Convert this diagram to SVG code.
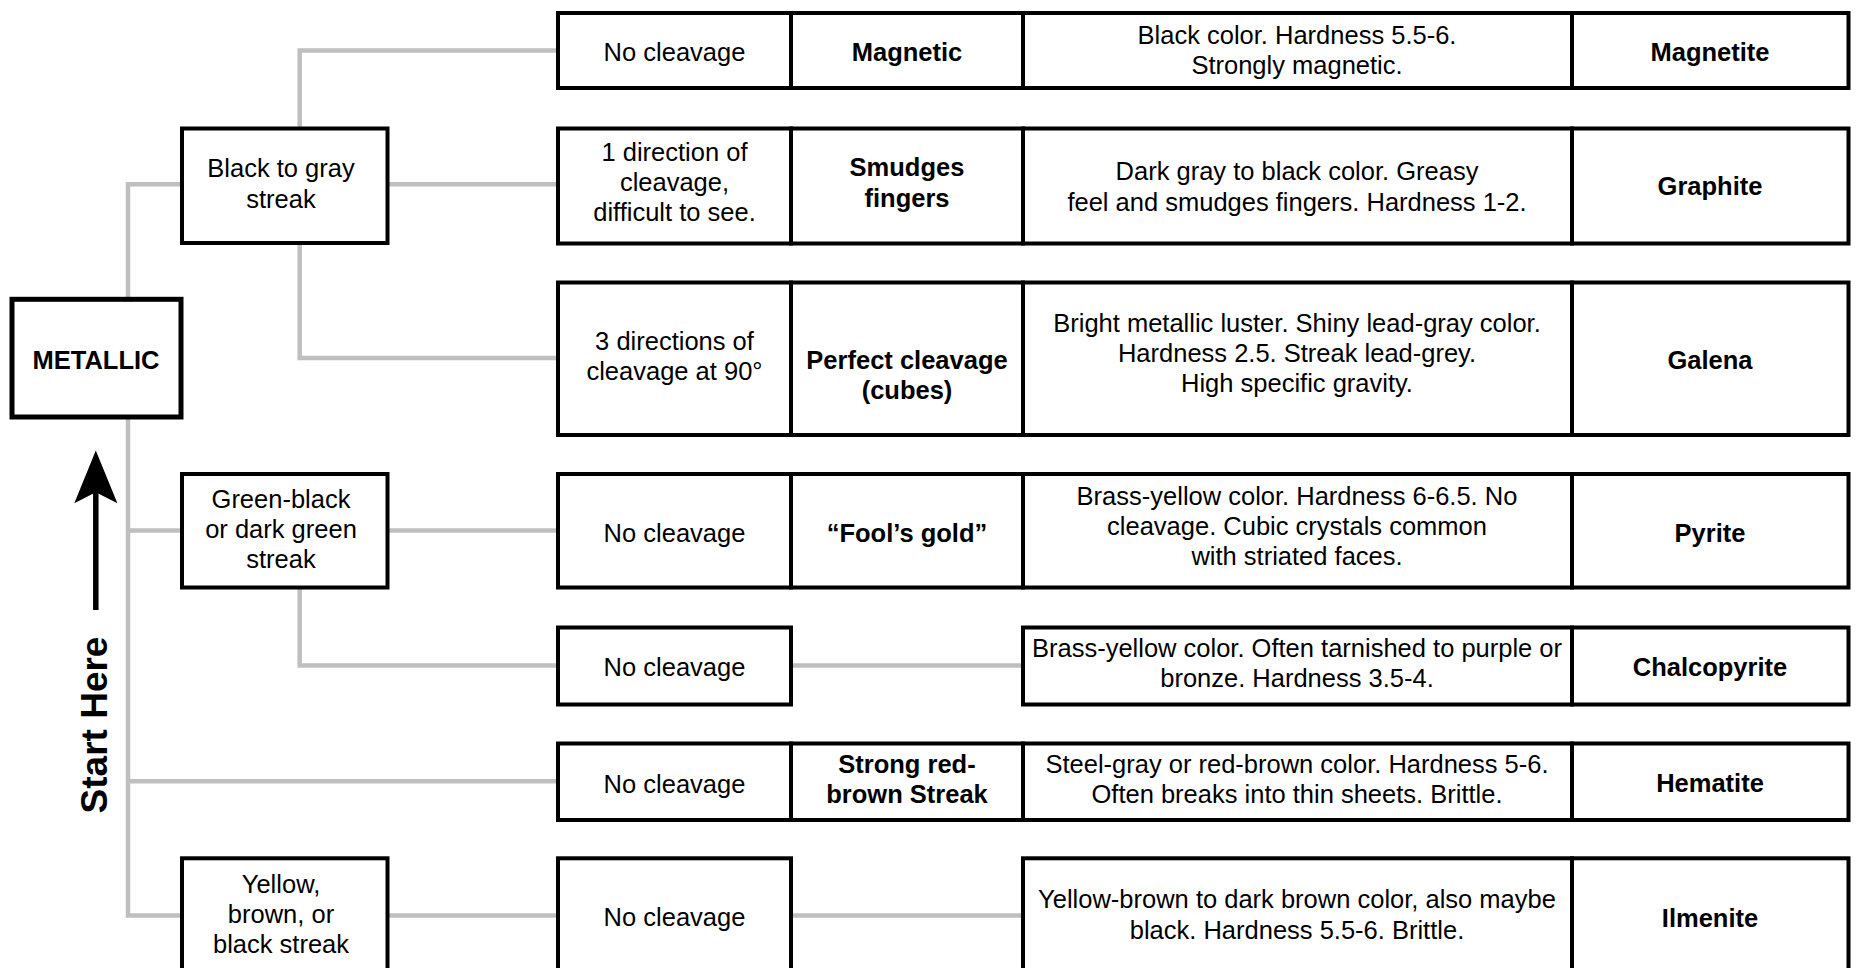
<svg xmlns="http://www.w3.org/2000/svg" width="1857" height="968" viewBox="0 0 1857 968">
<style>
.box{fill:#fff;stroke:#000;stroke-width:4}
.main{fill:#fff;stroke:#000;stroke-width:5}
.conn{fill:none;stroke:#bfbfbf;stroke-width:4.5;stroke-linejoin:miter}
.t{font-family:"Liberation Sans",Arial,sans-serif;font-size:25.5px;fill:#000;text-anchor:middle}
.b{font-weight:bold}
</style>
<rect width="1857" height="968" fill="#fff"/>
<g id="connectors">
<path class="conn" d="M182,184.3 H128 V915.5 H182"/>
<path class="conn" d="M128,530.5 H182"/>
<path class="conn" d="M128,781.3 H558"/>
<path class="conn" d="M299.7,128.5 V50.5 H558"/>
<path class="conn" d="M387.5,184.3 H558"/>
<path class="conn" d="M299.7,243 V358 H558"/>
<path class="conn" d="M387.5,530.5 H558"/>
<path class="conn" d="M299.7,587.5 V665.5 H558"/>
<path class="conn" d="M791,665.5 H1023"/>
<path class="conn" d="M387.5,915.5 H558"/>
<path class="conn" d="M791,915.5 H1023"/>
</g>
<g id="start-here">
<line x1="95.8" y1="490" x2="95.8" y2="610" stroke="#000" stroke-width="5.5"/>
<polygon points="95.8,450.5 117.4,503.3 95.8,492.3 74.3,503.3" fill="#000"/>
<text class="t b" style="font-size:37px" transform="translate(106.5,725) rotate(-90)" x="0" y="0">Start Here</text>
</g>
<g id="metallic">
<rect class="main" x="12" y="299.3" width="169" height="117.7"/>
<text class="t b" x="96" y="368.5">METALLIC</text>
</g>
<g id="black-streak">
<rect class="box" x="182" y="128.5" width="205.5" height="114.5"/>
<text class="t" x="281" y="177">Black to gray</text>
<text class="t" x="281" y="207.5">streak</text>
</g>
<g id="green-streak">
<rect class="box" x="182" y="474" width="205.5" height="113.5"/>
<text class="t" x="281" y="507.5">Green-black</text>
<text class="t" x="281" y="537.5">or dark green</text>
<text class="t" x="281" y="567.5">streak</text>
</g>
<g id="yellow-streak">
<rect class="box" x="182" y="858.3" width="205.5" height="140"/>
<text class="t" x="281" y="892.5">Yellow,</text>
<text class="t" x="281" y="923">brown, or</text>
<text class="t" x="281" y="953">black streak</text>
</g>
<g id="row-magnetite">
<rect class="box" x="558" y="13" width="233" height="75"/>
<rect class="box" x="791" y="13" width="232" height="75"/>
<rect class="box" x="1023" y="13" width="549" height="75"/>
<rect class="box" x="1572" y="13" width="276.5" height="75"/>
<text class="t" x="674.5" y="61">No cleavage</text>
<text class="t b" x="907" y="61">Magnetic</text>
<text class="t" x="1297" y="43.5">Black color. Hardness 5.5-6.</text>
<text class="t" x="1297" y="73.5">Strongly magnetic.</text>
<text class="t b" x="1710" y="61">Magnetite</text>
</g>
<g id="row-graphite">
<rect class="box" x="558" y="128.5" width="233" height="115"/>
<rect class="box" x="791" y="128.5" width="232" height="115"/>
<rect class="box" x="1023" y="128.5" width="549" height="115"/>
<rect class="box" x="1572" y="128.5" width="276.5" height="115"/>
<text class="t" x="674.5" y="161">1 direction of</text>
<text class="t" x="674.5" y="191">cleavage,</text>
<text class="t" x="674.5" y="221">difficult to see.</text>
<text class="t b" x="907" y="176">Smudges</text>
<text class="t b" x="907" y="206.5">fingers</text>
<text class="t" x="1297" y="180">Dark gray to black color. Greasy</text>
<text class="t" x="1297" y="210.5">feel and smudges fingers. Hardness 1-2.</text>
<text class="t b" x="1710" y="195">Graphite</text>
</g>
<g id="row-galena">
<rect class="box" x="558" y="282.5" width="233" height="152.5"/>
<rect class="box" x="791" y="282.5" width="232" height="152.5"/>
<rect class="box" x="1023" y="282.5" width="549" height="152.5"/>
<rect class="box" x="1572" y="282.5" width="276.5" height="152.5"/>
<text class="t" x="674.5" y="350">3 directions of</text>
<text class="t" x="674.5" y="380">cleavage at 90°</text>
<text class="t b" x="907" y="369">Perfect cleavage</text>
<text class="t b" x="907" y="399">(cubes)</text>
<text class="t" x="1297" y="332">Bright metallic luster. Shiny lead-gray color.</text>
<text class="t" x="1297" y="362">Hardness 2.5. Streak lead-grey.</text>
<text class="t" x="1297" y="392">High specific gravity.</text>
<text class="t b" x="1710" y="369">Galena</text>
</g>
<g id="row-pyrite">
<rect class="box" x="558" y="474" width="233" height="113.5"/>
<rect class="box" x="791" y="474" width="232" height="113.5"/>
<rect class="box" x="1023" y="474" width="549" height="113.5"/>
<rect class="box" x="1572" y="474" width="276.5" height="113.5"/>
<text class="t" x="674.5" y="542">No cleavage</text>
<text class="t b" x="907" y="542">“Fool’s gold”</text>
<text class="t" x="1297" y="505">Brass-yellow color. Hardness 6-6.5. No</text>
<text class="t" x="1297" y="535">cleavage. Cubic crystals common</text>
<text class="t" x="1297" y="565">with striated faces.</text>
<text class="t b" x="1710" y="542">Pyrite</text>
</g>
<g id="row-chalcopyrite">
<rect class="box" x="558" y="627.5" width="233" height="77"/>
<rect class="box" x="1023" y="627.5" width="549" height="77"/>
<rect class="box" x="1572" y="627.5" width="276.5" height="77"/>
<text class="t" x="674.5" y="676">No cleavage</text>
<text class="t" x="1297" y="657">Brass-yellow color. Often tarnished to purple or</text>
<text class="t" x="1297" y="687">bronze. Hardness 3.5-4.</text>
<text class="t b" x="1710" y="676">Chalcopyrite</text>
</g>
<g id="row-hematite">
<rect class="box" x="558" y="743.5" width="233" height="76.5"/>
<rect class="box" x="791" y="743.5" width="232" height="76.5"/>
<rect class="box" x="1023" y="743.5" width="549" height="76.5"/>
<rect class="box" x="1572" y="743.5" width="276.5" height="76.5"/>
<text class="t" x="674.5" y="793">No cleavage</text>
<text class="t b" x="907" y="773">Strong red-</text>
<text class="t b" x="907" y="802.5">brown Streak</text>
<text class="t" x="1297" y="773">Steel-gray or red-brown color. Hardness 5-6.</text>
<text class="t" x="1297" y="802.5">Often breaks into thin sheets. Brittle.</text>
<text class="t b" x="1710" y="792">Hematite</text>
</g>
<g id="row-ilmenite">
<rect class="box" x="558" y="858.3" width="233" height="140"/>
<rect class="box" x="1023" y="858.3" width="549" height="140"/>
<rect class="box" x="1572" y="858.3" width="276.5" height="140"/>
<text class="t" x="674.5" y="925.5">No cleavage</text>
<text class="t" x="1297" y="908">Yellow-brown to dark brown color, also maybe</text>
<text class="t" x="1297" y="938.5">black. Hardness 5.5-6. Brittle.</text>
<text class="t b" x="1710" y="926.5">Ilmenite</text>
</g>
</svg>
